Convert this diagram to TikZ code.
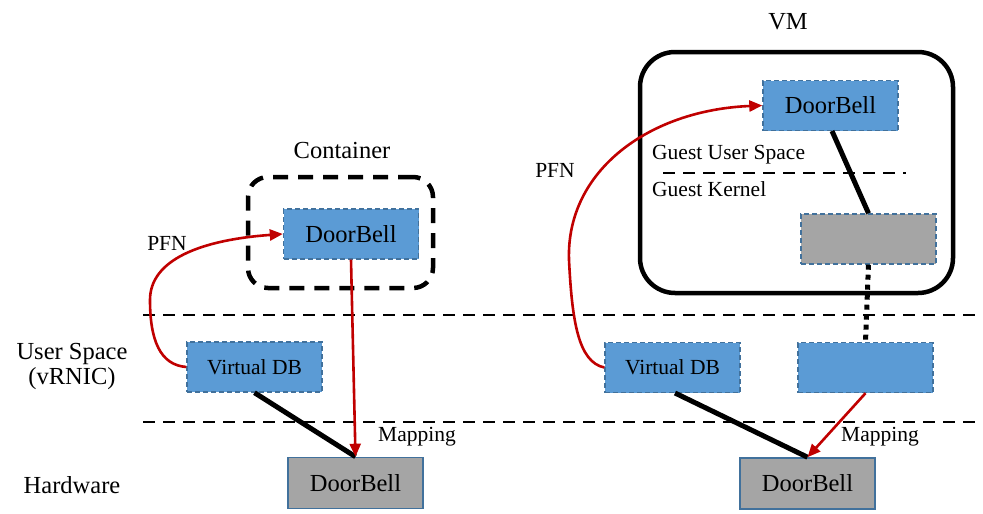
\documentclass[tikz,border=0pt]{standalone}
\usepackage{fontspec}
\setmainfont{Liberation Serif}
\newfontfamily\tnr{Liberation Serif}
\usetikzlibrary{arrows.meta}
\definecolor{boxblue}{HTML}{5B9BD5}
\definecolor{boxedge}{HTML}{41719C}
\definecolor{boxgray}{HTML}{A5A5A5}
\definecolor{arrred}{HTML}{C00000}
\tikzset{
  bluebox/.style={draw=boxedge, fill=boxblue, line width=1.4pt, dash pattern=on 5pt off 3pt, minimum width=135pt, minimum height=50pt, inner sep=0pt},
  graybox/.style={draw=boxedge, fill=boxgray, line width=1.6pt, minimum width=135pt, minimum height=51pt, inner sep=0pt},
  bigtxt/.style={font=\tnr\fontsize{24.5}{28}\selectfont},
  smalltxt/.style={font=\tnr\fontsize{21.5}{25}\selectfont},
  sep/.style={line width=2.8pt, dash pattern=on 12pt off 8pt},
  redarr/.style={draw=arrred, line width=2.6pt, -{Triangle[length=13pt,width=11pt]}},
  thickline/.style={line width=5pt},
}
\begin{document}
\begin{tikzpicture}[x=1pt,y=-1pt]
\useasboundingbox (0,0) rectangle (983,514);
% separators
\coordinate (s1a) at (143,315); \coordinate (s1b) at (981,315);
\coordinate (s2a) at (143,422); \coordinate (s2b) at (981,422);
\draw[sep] (s1a) -- (s1b);
\draw[sep] (s2a) -- (s2b);
% left labels
\node[bigtxt, align=center] (us) at (72,366) {User Space\\[-3pt](vRNIC)};
\node[bigtxt] (hw) at (72,485) {Hardware};
% container
\node[draw, line width=4.5pt, dash pattern=on 15pt off 10pt, rounded corners=20pt, minimum width=185pt, minimum height=111pt] (cont) at (340.5,232.5) {};
\node[bigtxt] (contlbl) at (342,151) {Container};
\node[bluebox, bigtxt] (db1) at (351,234) {DoorBell};
\node[bluebox, smalltxt, minimum height=50pt] (vdb1) at (254.5,367) {Virtual DB};
\node[graybox, bigtxt] (hdb1) at (355.5,483) {DoorBell};
\node[smalltxt] (map1) at (417,437) {Mapping};
\node[smalltxt] (pfn1) at (167,243) {PFN};
\draw[thickline] (vdb1.south) -- (hdb1.north);
\draw[redarr] (db1.south) -- (hdb1.north);
\draw[redarr] (vdb1.west) .. controls (160,365) and (150,340) .. (150,300) .. controls (150,260) and (200,240) .. (db1.west);
% VM
\node[draw, line width=4.5pt, rounded corners=35pt, minimum width=313pt, minimum height=241pt] (vm) at (796.5,172.5) {};
\node[bigtxt] (vmlbl) at (788,22) {VM};
\node[bluebox, bigtxt] (db2) at (830.5,105.5) {DoorBell};
\node[smalltxt, anchor=west, inner sep=0pt] (gus) at (652,155) {Guest User Space};
\node[smalltxt, anchor=west, inner sep=0pt] (gk) at (652,189) {Guest Kernel};
\coordinate (g1) at (663,173); \coordinate (g2) at (906,173);
\draw[sep] (g1) -- (g2);
\node[bluebox, fill=boxgray] (gbox) at (868.5,239) {};
\node[bluebox, smalltxt] (vdb2) at (672.5,367.5) {Virtual DB};
\node[bluebox] (nic) at (865.5,367.5) {};
\node[graybox, bigtxt] (hdb2) at (807.5,483.5) {DoorBell};
\node[smalltxt] (map2) at (880,437) {Mapping};
\node[smalltxt] (pfn2) at (555,170) {PFN};
\coordinate (db2b) at (832,131);
\draw[thickline] (db2b) -- (gbox.north);
\draw[line width=5pt, dash pattern=on 5pt off 5pt] (gbox.south) -- (nic.north);
\coordinate (vdb2b) at (675,393);
\draw[thickline] (vdb2b) -- (hdb2.north);
\draw[redarr] (nic.south) -- (hdb2.north);
\draw[redarr] (vdb2.west) .. controls (578,362) and (572,320) .. (569,260) .. controls (566,170) and (650,110) .. (db2.west);
\end{tikzpicture}
\end{document}
